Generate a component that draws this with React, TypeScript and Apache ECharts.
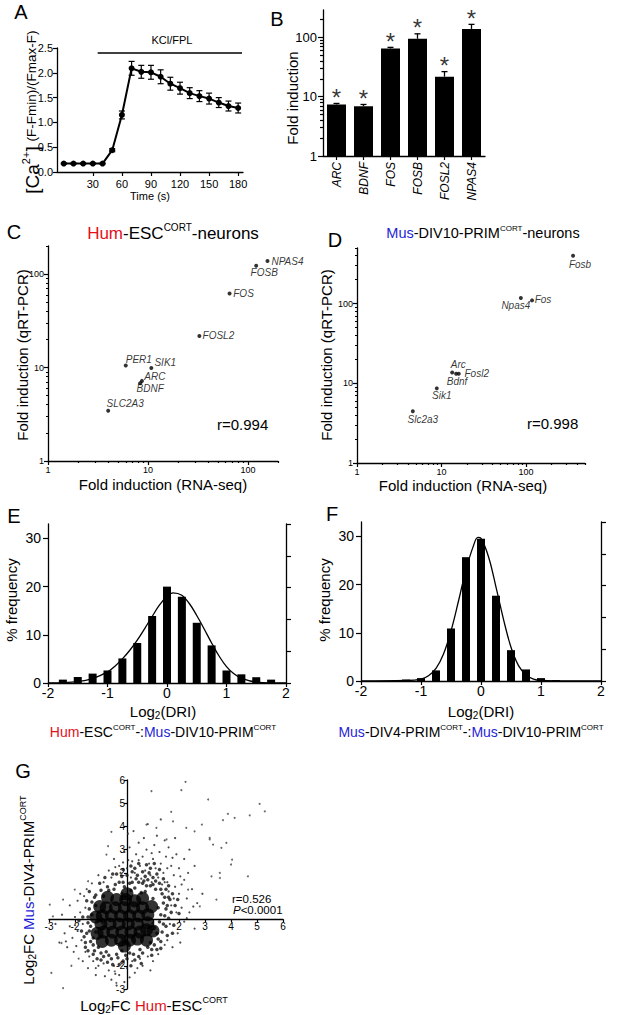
import React, { useEffect, useRef } from 'react';
import * as echarts from 'echarts';

const FONT = "'Liberation Sans', Arial, Helvetica, sans-serif";
const RED = '#e3101a';
const BLUE = '#1f1fd6';
const BLACK = '#000';

// ---------- Panel A ----------
const aTime = [0, 10, 20, 30, 40, 50, 60, 70, 80, 90, 100, 110, 120, 130, 140, 150, 160, 170, 180];
const aCa = [0.17, 0.17, 0.17, 0.17, 0.17, 0.44, 1.15, 2.09, 2.02, 2.01, 1.92, 1.78, 1.69, 1.59, 1.53, 1.48, 1.4, 1.33, 1.29];
const aErr = [0.01, 0.01, 0.01, 0.01, 0.01, 0.03, 0.08, 0.14, 0.13, 0.14, 0.14, 0.13, 0.12, 0.11, 0.11, 0.11, 0.1, 0.1, 0.1];
const aTickValues = [30, 60, 90, 120, 150, 180];
const aStimStartEnd = [35, 184];
const aStimLevel = 2.4;

// ---------- Panel B ----------
const bGenes = ['ARC', 'BDNF', 'FOS', 'FOSB', 'FOSL2', 'NPAS4'];
const bFold = [7.4, 6.9, 65, 95, 21.8, 139];
const bFoldUpper = [7.7, 7.4, 68, 115, 26.5, 166];

// ---------- Panel C ----------
const cGenes = ['NPAS4', 'FOSB', 'FOS', 'FOSL2', 'PER1', 'SIK1', 'ARC', 'BDNF', 'SLC2A3'];
const cRnaSeq = [157, 121, 65.5, 32.7, 6.0, 10.8, 8.7, 8.35, 4.0];
const cQpcr = [138, 123, 62, 21.8, 10.5, 9.9, 7.2, 6.8, 3.45];

// ---------- Panel D ----------
const dGenes = ['Fosb', 'Npas4', 'Fos', 'Arc', 'Bdnf', 'Fosl2', 'Sik1', 'Slc2a3'];
const dRnaSeq = [361, 87, 118, 13.4, 14.9, 16.0, 8.8, 4.58];
const dQpcr = [400, 118, 110, 13.7, 13.2, 13.2, 8.65, 4.46];

// ---------- Panel E ----------
const eBins = [-1.75, -1.5, -1.25, -1, -0.75, -0.5, -0.25, 0, 0.25, 0.5, 0.75, 1, 1.25, 1.5, 1.75];
const eFreq = [0.7, 1.25, 1.95, 2.6, 5.1, 8.3, 13.9, 20.0, 17.9, 12.5, 7.8, 2.6, 1.8, 1.2, 0.7];
const eCurveX = [-2, -1.5, -1.25, -1, -0.875, -0.75, -0.625, -0.5, -0.375, -0.25, -0.125, 0, 0.1, 0.25, 0.375, 0.5, 0.625, 0.75, 0.875, 1, 1.125, 1.25, 1.5, 2];
const eCurveY = [0, 0.3, 0.9, 2.3, 3.5, 5.0, 6.8, 8.9, 11.3, 13.8, 16.2, 18.0, 18.7, 18.2, 16.5, 14.0, 11.2, 8.3, 5.6, 3.4, 1.9, 1.0, 0.2, 0];

// ---------- Panel F ----------
const fBins = [-1.25, -1, -0.75, -0.5, -0.25, 0, 0.25, 0.5, 0.75, 1, 1.25];
const fFreq = [0.3, 0.6, 2.2, 10.9, 25.7, 29.5, 17.7, 6.4, 2.4, 0.6, 0.2];
const fCurveX = [-2, -1.25, -1, -0.875, -0.75, -0.625, -0.5, -0.375, -0.25, -0.125, -0.05, 0, 0.125, 0.25, 0.375, 0.5, 0.625, 0.75, 0.875, 1, 1.25, 2];
const fCurveY = [0, 0.1, 0.4, 1.1, 2.6, 5.6, 10.4, 16.6, 23.1, 28.1, 29.8, 29.6, 25.8, 19.5, 12.8, 7.0, 3.2, 1.3, 0.4, 0.1, 0, 0];

// ---------- Panel G ----------
const gCore = [
  [-0.6, -0.9], [-0.25, -0.9], [0.1, -0.9], [0.4, -0.85],
  [-0.9, -0.55], [-0.55, -0.55], [-0.2, -0.55], [0.15, -0.55], [0.5, -0.55], [0.75, -0.45],
  [-1.0, -0.2], [-0.65, -0.2], [-0.3, -0.2], [0.05, -0.2], [0.4, -0.2], [0.8, -0.15],
  [-0.95, 0.15], [-0.6, 0.15], [-0.25, 0.15], [0.1, 0.15], [0.45, 0.15], [0.8, 0.2],
  [-0.8, 0.5], [-0.45, 0.5], [-0.1, 0.5], [0.25, 0.5], [0.6, 0.5],
  [-0.4, 0.85], [-0.05, 0.85], [0.3, 0.8],
  [-1.15, -0.6], [-1.2, 0.1], [-1.05, 0.55], [-0.75, 0.95], [0.6, 0.9], [0.95, 0.55],
  [1.0, -0.5], [0.75, -0.9], [-0.95, -0.95], [0.0, 1.1], [-0.1, -1.15],
];
const gMid = [
  [-1.4, -0.3], [-1.35, 0.2], [-1.3, -0.8], [-1.2, 0.6], [-1.1, -1.2], [-0.9, 1.0], [-0.8, -1.4], [-0.5, 1.3],
  [-0.4, -1.5], [-0.1, 1.4], [0.1, -1.45], [0.3, 1.35], [0.5, -1.3], [0.7, 1.2], [0.9, -1.0], [1.0, 0.9],
  [1.15, -0.6], [1.2, 0.5], [1.25, -0.1], [1.3, 0.2], [0.2, 1.6], [0.6, 1.55], [-0.3, 1.6], [1.4, 0.7],
  [1.1, 1.3], [-1.55, -0.6], [-1.5, 0.1], [-1.3, -1.1], [-0.6, -1.7], [0.0, -1.7], [0.8, 1.7], [0.4, 1.9],
  [1.5, -0.3], [-0.9, -1.6], [-1.6, -1.0], [0.95, -1.3], [1.35, 1.1], [-0.2, 1.85], [-1.25, 0.95],
  [0.55, 1.15], [0.9, 1.45], [0.15, 1.25], [-0.7, 1.25], [1.05, -0.35], [-1.2, -0.55], [-0.2, -1.35],
  [-1.45, 0.45], [-1.5, -0.15], [-1.45, -0.5], [-1.4, -0.95], [-1.25, -1.35], [-1.0, -1.45], [-0.7, -1.55],
  [-0.35, -1.65], [-0.05, -1.55], [0.25, -1.5], [0.6, -1.45], [0.8, -1.2], [1.05, -1.1], [1.2, -0.85],
  [1.35, -0.55], [1.4, -0.2], [1.45, 0.15], [1.5, 0.45], [1.45, 0.95], [1.3, 1.3], [1.0, 1.5], [0.75, 1.45],
  [0.45, 1.6], [0.1, 1.55], [-0.15, 1.6], [-0.45, 1.5], [-0.75, 1.4], [-1.0, 1.25], [-1.2, 1.05], [-1.35, 0.75],
  [0.3, 2.2], [0.6, 2.05], [0.9, 2.2], [1.15, 1.95], [1.4, 1.75], [1.6, 1.45], [1.75, 1.1], [1.7, 0.3],
  [1.65, 0.85], [0.0, 1.9], [-0.4, 1.95], [-0.85, 1.8], [0.7, 1.85], [1.0, 1.8], [0.2, 2.05], [-1.55, 0.8],
  [-1.7, 0.1], [-1.75, -0.5], [-1.6, -1.2], [-1.3, -1.5], [-1.0, -1.75], [-0.3, -1.95], [0.3, -1.75],
  [0.55, -1.9], [-0.75, -1.85], [1.3, -1.25], [1.55, -0.7], [1.8, -0.25], [1.85, 0.6],
  [0.35, 1.75], [0.65, 1.65], [0.85, 2.0], [1.1, 1.65], [1.25, 1.55], [1.5, 1.3], [1.6, 0.95], [1.55, 0.6],
  [1.6, 0.05], [1.3, -0.95], [0.45, 2.4], [0.15, 2.3], [-0.15, 2.15], [-0.55, 1.95], [-1.05, 1.55], [-1.45, 1.2],
  [-1.65, -0.75], [-1.85, -0.05], [-1.5, -1.35], [-1.15, -1.7], [-0.55, -1.95], [-0.15, -1.8], [0.15, -2.0],
  [0.45, -1.6], [0.95, -1.55], [1.15, -1.3], [1.75, -0.6], [2.0, 0.25], [1.95, 0.85], [1.25, 2.15], [0.75, 2.35],
  [1.05, 2.4],
];
const gHalo = [
  [-0.7, 2.1], [-0.5, 2.6], [-0.3, 2.3], [-0.1, 2.9], [0.0, 2.2], [0.1, 3.1], [0.2, 2.5], [0.3, 2.0],
  [0.35, 2.8], [0.45, 3.3], [0.5, 2.3], [0.6, 2.7], [0.7, 2.1], [0.75, 3.0], [0.85, 2.4], [0.9, 1.9],
  [1.0, 2.6], [1.05, 3.2], [1.1, 2.2], [1.2, 1.8], [1.25, 2.9], [1.3, 2.4], [1.4, 2.0], [1.5, 2.7],
  [1.55, 1.6], [1.6, 3.1], [1.7, 2.3], [1.8, 1.9], [1.9, 2.8], [2.0, 2.2], [2.1, 1.5], [2.2, 2.6],
  [-0.6, 1.8], [-0.9, 1.6], [-1.1, 1.9], [0.15, 1.8], [0.55, 1.75], [1.35, 1.5], [0.95, 1.6], [-0.25, 2.0],
  [0.05, 2.55], [0.65, 3.5], [1.15, 3.6], [0.25, 3.8], [1.45, 3.4], [1.85, 3.5], [2.4, 3.0], [2.6, 2.3],
  [0.8, 4.1], [1.3, 4.3],
  [1.6, 1.2], [1.7, 0.6], [1.65, -0.2], [1.8, 0.9], [1.9, 0.3], [1.95, -0.6], [2.0, 1.1], [2.1, 0.5],
  [2.2, -0.1], [2.3, 0.9], [2.4, 0.3], [2.5, 1.3], [2.6, -0.4], [2.7, 0.7], [2.9, 1.1], [1.55, -0.9],
  [1.75, -1.2], [2.05, -1.0], [1.45, 1.6], [2.2, 1.7], [1.85, 1.4],
  [-1.6, 0.5], [-1.7, -0.2], [-1.8, 0.3], [-1.75, -0.9], [-1.9, -0.5], [-2.0, 0.1], [-2.1, -0.8], [-2.2, -0.3],
  [-2.3, -1.2], [-2.4, -0.6], [-2.5, 0.2], [-1.65, 1.0], [-1.9, 0.8], [-2.05, -1.4], [-1.6, -1.4], [-1.45, -1.6],
  [-2.6, -1.0], [-2.75, -0.2], [-1.55, 1.3], [-2.2, 0.6],
  [-1.3, -1.8], [-1.1, -2.0], [-0.9, -1.9], [-0.7, -2.2], [-0.5, -2.0], [-0.3, -2.4], [-0.2, -1.9], [0.0, -2.1],
  [0.2, -1.8], [0.3, -2.3], [0.5, -1.7], [0.6, -2.0], [-0.6, -2.6], [-0.1, -2.7], [-1.5, -2.1], [-1.2, -2.4],
  [-0.85, -2.45], [0.1, -2.5], [-1.7, -1.8], [0.8, -1.6], [1.0, -1.8], [1.2, -1.5], [-0.4, -2.85],
  [-0.45, 2.25], [-0.15, 2.45], [0.45, 2.55], [0.95, 2.85], [1.55, 2.2], [1.75, 2.65], [2.35, 2.0], [2.05, 1.85],
  [-1.35, 1.55], [-1.8, 1.1], [-2.0, -0.25], [-2.35, -0.95], [-1.95, -1.15], [-1.2, -2.1], [-0.45, -2.35],
  [0.4, -2.1], [0.9, -2.2], [1.45, -1.1], [2.3, 0.05], [2.55, 0.55],
];
const gOut = [
  [2.25, 5.92], [0.94, 5.52], [2.09, 5.56], [3.12, 5.16], [5.1, 4.97], [4.72, 4.48], [5.3, 4.65], [4.14, 4.37],
  [3.88, 4.54], [3.69, 4.27], [2.88, 4.08], [2.6, 3.79], [2.28, 3.94], [1.7, 4.63], [1.77, 4.22], [0.75, 4.08],
  [-0.6, 3.77], [0.04, 3.69], [3.18, 3.44], [3.31, 3.22], [3.63, 3.08], [1.13, 3.94], [1.52, 3.44], [3.25, 1.85],
  [3.57, 1.78], [4.65, 1.85], [4.0, 2.36], [-0.79, 2.79], [-0.73, 3.15],
  [-2.91, -2.31], [-2.46, -2.96], [-2.52, -1.02], [-2.97, 0.63], [-2.46, 0.85], [-1.5, 1.64], [-1.86, -1.69],
  [-2.14, -2.0], [-0.41, -2.74], [-0.47, -2.24], [4.04, 2.57], [3.57, 2.0], [3.18, 3.51], [3.82, 3.29],
  [2.35, 1.28], [2.8, 0.56], [3.44, 0.85], [-2.85, 0.13], [-2.01, 1.28],
];

// ---------- label placement (style) ----------
const cLabelOffset: Record<string, [number, number]> = {
  NPAS4: [20, 0], FOSB: [8, 7], FOS: [14, 0], FOSL2: [19, 0], PER1: [13, -6],
  SIK1: [14, -5], ARC: [13, -4], BDNF: [10, 5], SLC2A3: [17, -7],
};
const dLabelOffset: Record<string, [number, number]> = {
  Fosb: [7, 9], Npas4: [-5, 8], Fos: [11, -1], Arc: [6, -8], Fosl2: [18, 0],
  Bdnf: [1, 8], Sik1: [5, 7], Slc2a3: [10, 8],
};

const lg = (v: number) => Math.log10(v);
function minorLogTicks(maxVal: number) {
  const out: number[] = [];
  [1, 10, 100].forEach((d) => {
    [2, 3, 4, 5, 6, 7, 8, 9].forEach((m) => {
      if (m * d <= maxVal) out.push(Math.log10(m * d));
    });
  });
  return out;
}

const axLine = () => ({ show: true, onZero: false, lineStyle: { color: BLACK, width: 1.3 } });
const tickStyle = { color: BLACK, width: 1.2 };
const noSplit = { show: false };

function rich(size: number) {
  const base: any = { fontSize: size, fontFamily: FONT, fill: BLACK, verticalAlign: 'middle', lineHeight: Math.round(size * 1.25) };
  return {
    n: base,
    r: { ...base, fill: RED },
    b: { ...base, fill: BLUE },
    i: { ...base, fontStyle: 'italic' },
    sup: { fontSize: Math.round(size * 0.58), fontFamily: FONT, fill: BLACK, verticalAlign: 'top', lineHeight: Math.round(size * 0.72) },
    sub: { fontSize: Math.round(size * 0.68), fontFamily: FONT, fill: BLACK, verticalAlign: 'bottom', lineHeight: Math.round(size * 0.8) },
  };
}

function T(text: string, x: number, y: number, size: number, o: any = {}) {
  return {
    type: 'text',
    x,
    y,
    rotation: o.rot || 0,
    silent: true,
    z: 100,
    style: {
      text,
      rich: rich(size),
      fontSize: size,
      fontFamily: FONT,
      fill: BLACK,
      align: o.align || 'center',
      verticalAlign: o.va || 'middle',
    },
  };
}

const errRender = (cap: number, lw: number, bottomCap: boolean) => (params: any, api: any) => {
  const x = api.value(0);
  const lo = api.value(1);
  const hi = api.value(2);
  const p1 = api.coord([x, lo]);
  const p2 = api.coord([x, hi]);
  const st = { stroke: BLACK, lineWidth: lw };
  const children: any[] = [
    { type: 'line', shape: { x1: p1[0], y1: p1[1], x2: p2[0], y2: p2[1] }, style: st },
    { type: 'line', shape: { x1: p2[0] - cap, y1: p2[1], x2: p2[0] + cap, y2: p2[1] }, style: st },
  ];
  if (bottomCap) children.push({ type: 'line', shape: { x1: p1[0] - cap, y1: p1[1], x2: p1[0] + cap, y2: p1[1] }, style: st });
  return { type: 'group', children };
};

function logAxes(kind: 'x' | 'y', gridIndex: number, maxVal: number, fontSize: number, margin: number, majorLen: number) {
  const majors = [0, 1, 2].filter((v) => v <= lg(maxVal) + 1e-9);
  const main: any = {
    gridIndex,
    type: 'value',
    min: 0,
    max: lg(maxVal),
    position: kind === 'x' ? 'bottom' : 'left',
    axisLine: axLine(),
    axisTick: { show: true, customValues: majors, length: majorLen, lineStyle: tickStyle },
    axisLabel: {
      show: true,
      customValues: majors,
      formatter: (v: number) => String(Math.round(Math.pow(10, v))),
      fontSize,
      fontFamily: FONT,
      color: BLACK,
      margin,
    },
    splitLine: noSplit,
  };
  const minor: any = {
    gridIndex,
    type: 'value',
    min: 0,
    max: lg(maxVal),
    position: kind === 'x' ? 'bottom' : 'left',
    axisLine: { show: false, onZero: false },
    axisTick: { show: true, customValues: minorLogTicks(maxVal), length: Math.max(2, majorLen - 2), lineStyle: tickStyle },
    axisLabel: { show: false },
    splitLine: noSplit,
  };
  return [main, minor];
}

// G grid geometry (used to place the crossing axes on the zero of each other)
const gGrid = { left: 49, top: 780, width: 234, height: 209 };
const gMin = -3;
const gMax = 6;

function buildOption(): any {
  const [cxMain, cxMinor] = logAxes('x', 2, 200, 9, 4, 4);
  const [dxMain, dxMinor] = logAxes('x', 3, 500, 9, 4, 4);
  const [byMain, byMinor] = logAxes('y', 1, 290, 13, 6, 5);
  const [cyMain, cyMinor] = logAxes('y', 2, 200, 9, 4, 4);
  const [dyMain, dyMinor] = logAxes('y', 3, 500, 9, 4, 4);

  const histX = (gridIndex: number) => ({
    gridIndex,
    type: 'value',
    min: -2,
    max: 2,
    interval: 1,
    axisLine: axLine(),
    axisTick: { show: true, length: 4, lineStyle: tickStyle },
    axisLabel: { fontSize: 14, fontFamily: FONT, color: BLACK, margin: 3 },
    splitLine: noSplit,
  });
  const histYLeft = (gridIndex: number) => ({
    gridIndex,
    type: 'value',
    min: 0,
    max: 33,
    position: 'left',
    axisLine: axLine(),
    axisTick: { show: true, customValues: [0, 10, 20, 30], length: 5, lineStyle: tickStyle },
    axisLabel: { customValues: [0, 10, 20, 30], fontSize: 14, fontFamily: FONT, color: BLACK, margin: 7 },
    splitLine: noSplit,
  });
  const histYRight = (gridIndex: number) => ({
    gridIndex,
    type: 'value',
    min: 0,
    max: 5,
    interval: 1,
    position: 'right',
    axisLine: axLine(),
    axisTick: { show: true, length: 5, lineStyle: tickStyle },
    axisLabel: { show: false },
    splitLine: noSplit,
  });

  const zeroFracX = (0 - gMin) / (gMax - gMin);
  const zeroFracY = (gMax - 0) / (gMax - gMin);
  const gAxis = (kind: 'x' | 'y') => ({
    gridIndex: 6,
    type: 'value',
    min: gMin,
    max: gMax,
    interval: 1,
    position: kind === 'x' ? 'bottom' : 'left',
    offset: kind === 'x' ? -(gGrid.height * (1 - zeroFracY)) : -(gGrid.width * zeroFracX),
    axisLine: axLine(),
    axisTick: { show: true, length: 3, lineStyle: tickStyle },
    axisLabel: {
      fontSize: 10,
      fontFamily: FONT,
      color: BLACK,
      margin: 2,
      formatter: (v: number) => (v === 0 ? '' : String(v)),
    },
    splitLine: noSplit,
  });

  const labelSt = { fontSize: 10, fontStyle: 'italic', fontFamily: FONT, color: BLACK };

  return {
    animation: false,
    backgroundColor: '#fff',
    textStyle: { fontFamily: FONT },
    grid: [
      { left: 57, top: 48, width: 186, height: 124, outerBoundsMode: 'none' },
      { left: 323, top: 10, width: 162, height: 146, outerBoundsMode: 'none' },
      { left: 48, top: 246, width: 230, height: 215, outerBoundsMode: 'none' },
      { left: 357, top: 248, width: 228, height: 215, outerBoundsMode: 'none' },
      { left: 48, top: 524, width: 238, height: 159, outerBoundsMode: 'none' },
      { left: 361, top: 522, width: 240, height: 159, outerBoundsMode: 'none' },
      { ...gGrid, outerBoundsMode: 'none' },
    ],
    xAxis: [
      {
        gridIndex: 0,
        type: 'value',
        min: -7,
        max: 185,
        axisLine: axLine(),
        axisTick: { show: true, customValues: aTickValues, length: 4, lineStyle: tickStyle },
        axisLabel: { customValues: aTickValues, fontSize: 11, fontFamily: FONT, color: BLACK, margin: 6 },
        splitLine: noSplit,
      },
      {
        gridIndex: 1,
        type: 'category',
        data: bGenes,
        axisLine: axLine(),
        axisTick: { show: true, alignWithLabel: true, length: 4, lineStyle: tickStyle },
        axisLabel: { rotate: 90, interval: 0, fontSize: 12, fontStyle: 'italic', fontFamily: FONT, color: BLACK, margin: 6 },
        splitLine: noSplit,
      },
      cxMain,
      cxMinor,
      dxMain,
      dxMinor,
      histX(4),
      histX(5),
      gAxis('x'),
    ],
    yAxis: [
      {
        gridIndex: 0,
        type: 'value',
        min: 0,
        max: 2.5,
        interval: 0.5,
        axisLine: axLine(),
        axisTick: { show: true, length: 4, lineStyle: tickStyle },
        axisLabel: { fontSize: 11, fontFamily: FONT, color: BLACK, margin: 4, formatter: (v: number) => v.toFixed(1) },
        splitLine: noSplit,
      },
      byMain,
      byMinor,
      cyMain,
      cyMinor,
      dyMain,
      dyMinor,
      histYLeft(4),
      histYRight(4),
      histYLeft(5),
      histYRight(5),
      gAxis('y'),
    ],
    series: [
      // A
      {
        type: 'line',
        xAxisIndex: 0,
        yAxisIndex: 0,
        data: aTime.map((t, i) => [t, aCa[i]]),
        symbol: 'circle',
        symbolSize: 6,
        itemStyle: { color: BLACK },
        lineStyle: { color: BLACK, width: 2 },
        z: 4,
        markLine: {
          silent: true,
          symbol: 'none',
          label: { show: false },
          lineStyle: { color: BLACK, width: 1.5, type: 'solid' },
          data: [[{ coord: [aStimStartEnd[0], aStimLevel] }, { coord: [aStimStartEnd[1], aStimLevel] }]],
        },
      },
      {
        type: 'custom',
        xAxisIndex: 0,
        yAxisIndex: 0,
        data: aTime.map((t, i) => [t, aCa[i] - aErr[i], aCa[i] + aErr[i]]),
        encode: { x: 0, y: [1, 2] },
        renderItem: errRender(3, 1.2, true),
        z: 3,
      },
      // B
      {
        type: 'bar',
        xAxisIndex: 1,
        yAxisIndex: 1,
        data: bFold.map((v) => lg(v)),
        barWidth: 19,
        itemStyle: { color: BLACK },
      },
      {
        type: 'custom',
        xAxisIndex: 1,
        yAxisIndex: 1,
        data: bFold.map((v, i) => [i, lg(v), lg(bFoldUpper[i])]),
        encode: { x: 0, y: [1, 2] },
        renderItem: errRender(3, 1.3, false),
        z: 3,
      },
      {
        type: 'scatter',
        xAxisIndex: 1,
        yAxisIndex: 1,
        data: bFoldUpper.map((v, i) => [i, lg(v)]),
        symbolSize: 0,
        label: {
          show: true,
          position: 'top',
          distance: 0,
          offset: [0, 6],
          formatter: '*',
          fontSize: 24,
          fontFamily: FONT,
          color: BLACK,
        },
      },
      // C
      {
        type: 'scatter',
        xAxisIndex: 2,
        yAxisIndex: 3,
        symbolSize: 4,
        itemStyle: { color: BLACK },
        data: cGenes.map((g, i) => ({
          name: g,
          value: [lg(cRnaSeq[i]), lg(cQpcr[i])],
          label: { show: true, position: 'inside', offset: cLabelOffset[g], formatter: g, ...labelSt },
        })),
      },
      // D
      {
        type: 'scatter',
        xAxisIndex: 4,
        yAxisIndex: 5,
        symbolSize: 4,
        itemStyle: { color: BLACK },
        data: dGenes.map((g, i) => ({
          name: g,
          value: [lg(dRnaSeq[i]), lg(dQpcr[i])],
          label: { show: true, position: 'inside', offset: dLabelOffset[g], formatter: g, ...labelSt },
        })),
      },
      // E
      {
        type: 'bar',
        xAxisIndex: 6,
        yAxisIndex: 7,
        data: eBins.map((b, i) => [b, eFreq[i]]),
        barWidth: 8,
        itemStyle: { color: BLACK },
      },
      {
        type: 'line',
        xAxisIndex: 6,
        yAxisIndex: 7,
        data: eCurveX.map((x, i) => [x, eCurveY[i]]),
        smooth: 0.4,
        symbol: 'none',
        lineStyle: { color: BLACK, width: 1.3 },
        z: 5,
      },
      // F
      {
        type: 'bar',
        xAxisIndex: 7,
        yAxisIndex: 9,
        data: fBins.map((b, i) => [b, fFreq[i]]),
        barWidth: 8,
        itemStyle: { color: BLACK },
      },
      {
        type: 'line',
        xAxisIndex: 7,
        yAxisIndex: 9,
        data: fCurveX.map((x, i) => [x, fCurveY[i]]),
        smooth: 0.4,
        symbol: 'none',
        lineStyle: { color: BLACK, width: 1.3 },
        z: 5,
      },
      // G
      {
        type: 'scatter',
        xAxisIndex: 8,
        yAxisIndex: 11,
        data: gHalo,
        symbolSize: 2.2,
        itemStyle: { color: '#222' },
        silent: true,
      },
      {
        type: 'scatter',
        xAxisIndex: 8,
        yAxisIndex: 11,
        data: gOut,
        symbolSize: 2,
        itemStyle: { color: '#444' },
        silent: true,
      },
      {
        type: 'scatter',
        xAxisIndex: 8,
        yAxisIndex: 11,
        data: gMid,
        symbolSize: 3.5,
        itemStyle: { color: '#111' },
        silent: true,
      },
      {
        type: 'scatter',
        xAxisIndex: 8,
        yAxisIndex: 11,
        data: gCore,
        symbolSize: 13,
        itemStyle: { color: BLACK },
        silent: true,
      },
    ],
    graphic: [
      // letters
      T('A', 21, 12, 20),
      T('B', 277, 19, 20),
      T('C', 14, 232, 20),
      T('D', 335, 240, 20),
      T('E', 14, 516, 20),
      T('F', 332, 514, 20),
      T('G', 23, 771, 20),
      // A
      T('{n|KCl/FPL}', 172, 40, 11),
      T('{n|[Ca}{sup|2+}{n|]}', 32, 170, 19, { rot: Math.PI / 2 }),
      T('{n|(F-Fmin)/(Fmax-F)}', 31, 86, 13.5, { rot: Math.PI / 2 }),
      T('{n|Time (s)}', 150, 196, 11),
      // B
      T('{n|Fold induction}', 292, 98, 15, { rot: Math.PI / 2 }),
      // C
      T('{r|Hum}{n|-ESC}{sup|CORT}{n|-neurons}', 173, 233, 17),
      T('{n|Fold induction (qRT-PCR)}', 22, 355, 15, { rot: Math.PI / 2 }),
      T('{n|Fold induction (RNA-seq)}', 163, 484, 15),
      T('{n|r=0.994}', 217, 424, 15, { align: 'left' }),
      // D
      T('{b|Mus}{n|-DIV10-PRIM}{sup|CORT}{n|-neurons}', 483, 233, 14.5),
      T('{n|Fold induction (qRT-PCR)}', 326, 355, 15, { rot: Math.PI / 2 }),
      T('{n|Fold induction (RNA-seq)}', 463, 485, 15),
      T('{n|r=0.998}', 527, 423, 15, { align: 'left' }),
      // E
      T('{n|% frequency}', 11, 600, 15, { rot: Math.PI / 2 }),
      T('{n|Log}{sub|2}{n|(DRI)}', 163, 711, 15),
      T('{r|Hum}{n|-ESC}{sup|CORT}{n|-:}{b|Mus}{n|-DIV10-PRIM}{sup|CORT}', 163, 732, 14),
      // F
      T('{n|% frequency}', 324, 600, 15, { rot: Math.PI / 2 }),
      T('{n|Log}{sub|2}{n|(DRI)}', 481, 711, 15),
      T('{b|Mus}{n|-DIV4-PRIM}{sup|CORT}{n|-:}{b|Mus}{n|-DIV10-PRIM}{sup|CORT}', 471, 732, 14),
      // G
      T('{n|Log}{sub|2}{n|FC }{b|Mus}{n|-DIV4-PRIM}{sup|CORT}', 28, 890, 15, { rot: Math.PI / 2 }),
      T('{n|Log}{sub|2}{n|FC }{r|Hum}{n|-ESC}{sup|CORT}', 154, 1005, 15),
      T('{n|r=0.526}', 232, 899, 11.5, { align: 'left' }),
      T('{i|P}{n|<0.0001}', 233, 910, 11.5, { align: 'left' }),
    ],
  };
}

export default function App() {
  const ref = useRef<HTMLDivElement>(null);
  useEffect(() => {
    if (!ref.current) return;
    const chart = echarts.init(ref.current, undefined, { renderer: 'svg' });
    chart.setOption(buildOption());
    return () => {
      chart.dispose();
    };
  }, []);
  return (
    <div
      ref={ref}
      style={{ position: 'absolute', left: 0, top: 0, width: 617, height: 1015, background: '#fff' }}
    />
  );
}
